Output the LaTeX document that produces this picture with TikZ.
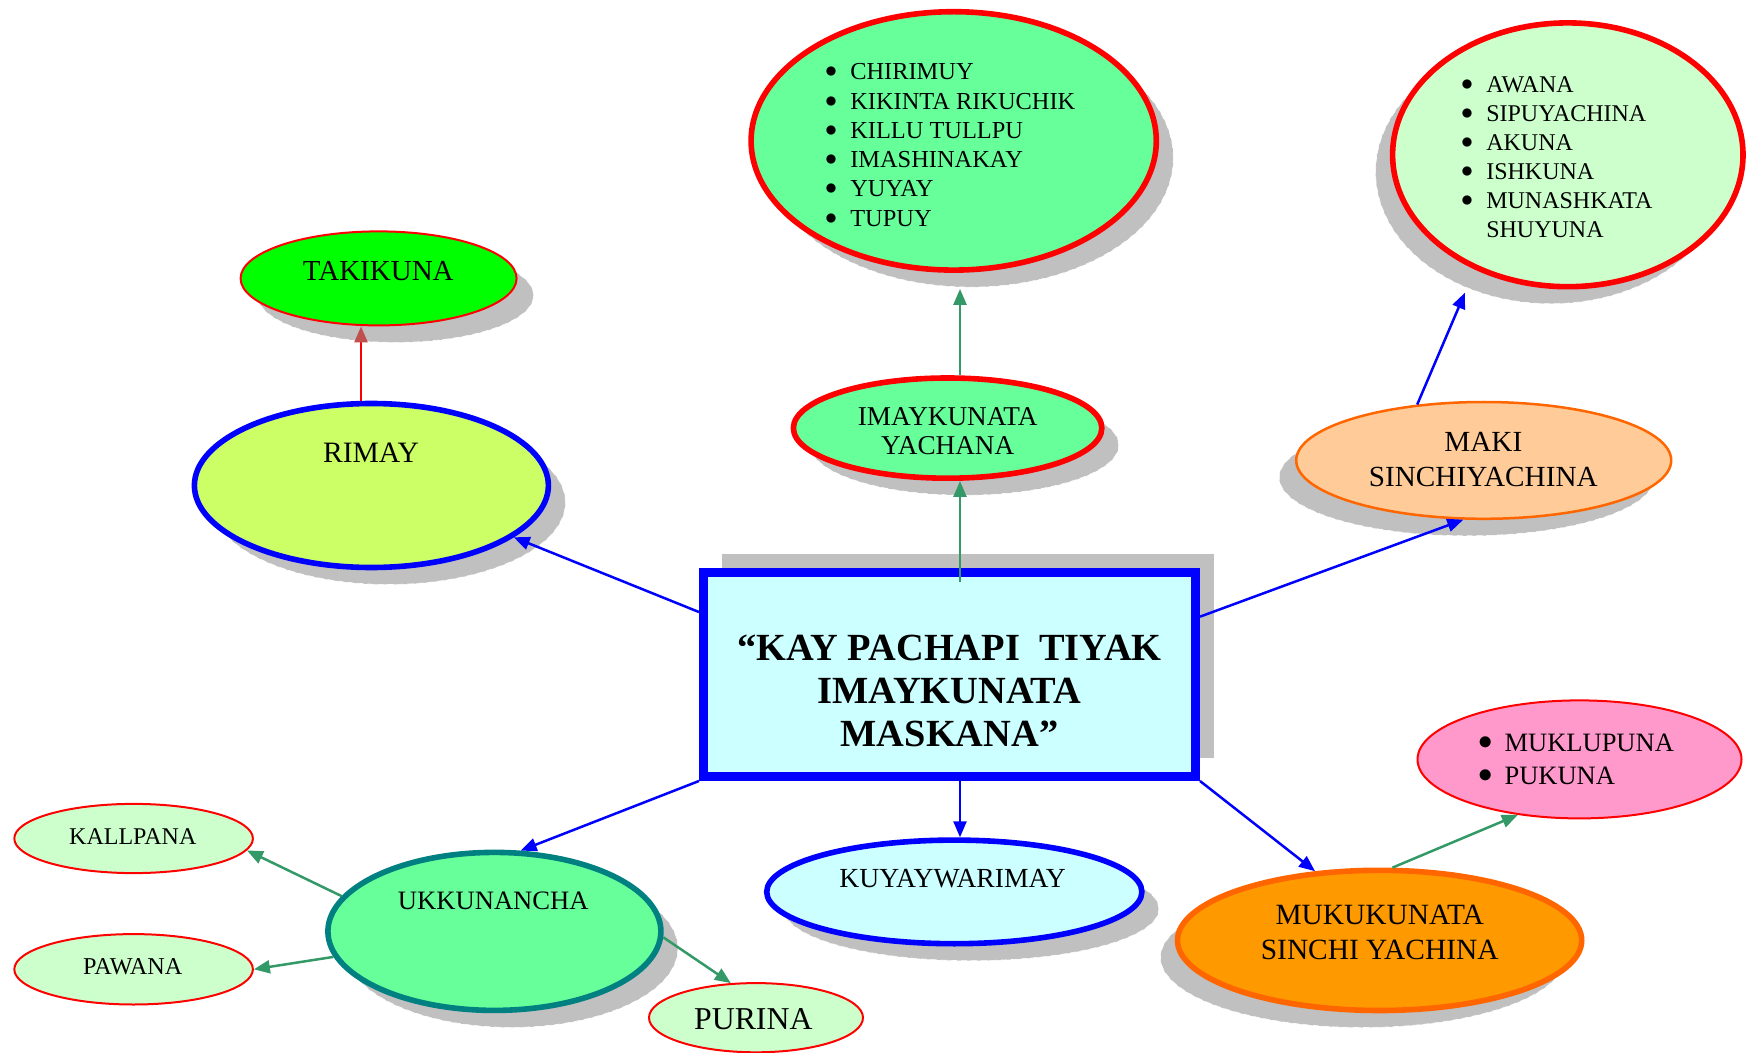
\documentclass[tikz,border=0pt]{standalone}
\usepackage{fontspec}
\setmainfont{Liberation Serif}
\usetikzlibrary{shapes.geometric,shadows,arrows.meta,calc}

\definecolor{boxcyan}{HTML}{CCFFFF}
\definecolor{takigreen}{HTML}{00FF00}
\definecolor{rimayfill}{HTML}{CCFF66}
\definecolor{mintfill}{HTML}{66FF99}
\definecolor{palefill}{HTML}{CCFFCC}
\definecolor{peachfill}{HTML}{FFCC99}
\definecolor{orangefill}{HTML}{FF9900}
\definecolor{orangeline}{HTML}{FF6600}
\definecolor{pinkfill}{HTML}{FF99CC}
\definecolor{tealline}{HTML}{008080}
\definecolor{shgray}{HTML}{C0C0C0}
\definecolor{arrowgreen}{HTML}{339966}
\definecolor{tipred}{HTML}{C0504D}

\newcommand\itm{\makebox[12pt]{\raisebox{.08em}{$\bullet$}}\hspace{3.6pt}}
\newcommand\noitm{\hspace*{15.6pt}}

\tikzset{
  oval/.style={ellipse, inner sep=0pt},
  shR/.style={drop shadow={shadow xshift=8.5pt, shadow yshift=-8.5pt, fill=shgray, opacity=1, draw=white, densely dashed, line width=.3pt}},
  shL/.style={drop shadow={shadow xshift=-8.5pt, shadow yshift=-8.5pt, fill=shgray, opacity=1, draw=white, densely dashed, line width=.3pt}},
  txt/.style={inner sep=0pt, align=center},
  lst/.style={inner sep=0pt, align=left, anchor=west},
  conn/.style={line width=1.25pt, -{Triangle[length=8pt,width=6.5pt]}},
}

\begin{document}
\begin{tikzpicture}[x=0.5pt, y=-0.5pt]
  \useasboundingbox (0,0) rectangle (1746,1053);
  \coordinate (vline) at (960,0);

  % central box
  \node[draw=blue, line width=4.5pt, fill=boxcyan, minimum width=246pt, minimum height=102pt, inner sep=0pt,
        drop shadow={shadow xshift=9pt, shadow yshift=9.5pt, fill=shgray, opacity=1}] (box) at (949.5,674.5) {};
  \node[txt, font=\fontsize{19.2}{21.45}\selectfont\bfseries] (title) at (949.5,691) {“KAY PACHAPI\ \ TIYAK\\IMAYKUNATA\\MASKANA”};

  % upper left
  \node[oval, shR, draw=red, line width=1pt, fill=takigreen, minimum width=138pt, minimum height=47pt] (taki) at (378.6,278.4) {};
  \node[txt, font=\fontsize{14.5}{17}\selectfont] (tTaki) at (378.3,270.7) {TAKIKUNA};
  \node[oval, shR, draw=blue, line width=2.8pt, fill=rimayfill, minimum width=177pt, minimum height=82pt] (rimay) at (371.4,485.5) {};
  \node[txt, font=\fontsize{14.8}{17}\selectfont] (tRimay) at (371,452.3) {RIMAY};

  % upper middle
  \node[oval, shR, draw=red, line width=2.8pt, fill=mintfill, minimum width=202.6pt, minimum height=129.2pt] (tasks) at (953.7,140.9) {};
  \node[lst, font=\fontsize{12.2}{14.65}\selectfont] (tTasks) at (818.7,145) {\itm CHIRIMUY\\\itm KIKINTA RIKUCHIK\\\itm KILLU TULLPU\\\itm IMASHINAKAY\\\itm YUYAY\\\itm TUPUY};
  \node[oval, shR, draw=red, line width=2.8pt, fill=mintfill, minimum width=154.2pt, minimum height=50.1pt] (imay) at (947.6,428.1) {};
  \node[txt, font=\fontsize{13.6}{14.65}\selectfont] (tImay) at (947.7,431.4) {IMAYKUNATA\\YACHANA};

  % upper right
  \node[oval, shL, draw=red, line width=2.8pt, fill=palefill, minimum width=175.2pt, minimum height=131.9pt] (sense) at (1567.8,154.8) {};
  \node[lst, font=\fontsize{12}{14.5}\selectfont] (tSense) at (1454.7,157.5) {\itm AWANA\\\itm SIPUYACHINA\\\itm AKUNA\\\itm ISHKUNA\\\itm MUNASHKATA\\\noitm SHUYUNA};
  \node[oval, shL, draw=orangeline, line width=1.25pt, fill=peachfill, minimum width=187.5pt, minimum height=58.4pt] (maki) at (1483.7,460.4) {};
  \node[txt, font=\fontsize{14.6}{17.2}\selectfont] (tMaki) at (1483.3,459.5) {MAKI\\SINCHIYACHINA};

  % lower right
  \node[oval, draw=red, line width=1pt, fill=pinkfill, minimum width=162pt, minimum height=59pt] (mukl) at (1579.5,759.4) {};
  \node[lst, font=\fontsize{13.25}{16.35}\selectfont] (tMukl) at (1473,759.7) {\itm MUKLUPUNA\\\itm PUKUNA};
  \node[oval, shL, draw=orangeline, line width=2.8pt, fill=orangefill, minimum width=202.1pt, minimum height=70.1pt] (muku) at (1379.6,940.4) {};
  \node[txt, font=\fontsize{14.7}{17.25}\selectfont] (tMuku) at (1379.7,932.5) {MUKUKUNATA\\SINCHI YACHINA};

  % lower middle
  \node[oval, shR, draw=blue, line width=2.8pt, fill=boxcyan, minimum width=187.6pt, minimum height=51.8pt] (kuyay) at (954.3,891.9) {};
  \node[txt, font=\fontsize{13.8}{16}\selectfont] (tKuyay) at (952.7,878.3) {KUYAYWARIMAY};

  % lower left
  \node[oval, shR, draw=tealline, line width=2.8pt, fill=mintfill, minimum width=166.5pt, minimum height=79pt] (ukk) at (494.4,931.4) {};
  \node[txt, font=\fontsize{13.3}{16}\selectfont] (tUkk) at (493.3,901) {UKKUNANCHA};
  \node[oval, draw=red, line width=1pt, fill=palefill, minimum width=119.3pt, minimum height=34.6pt] (kall) at (133.6,838.5) {};
  \node[txt, font=\fontsize{12}{14}\selectfont] (tKall) at (132.8,836.7) {KALLPANA};
  \node[oval, draw=red, line width=1pt, fill=palefill, minimum width=119.3pt, minimum height=35.2pt] (pawana) at (133.6,969.3) {};
  \node[txt, font=\fontsize{12.1}{14}\selectfont] (tPawana) at (132.7,966.7) {PAWANA};
  \node[oval, draw=red, line width=1pt, fill=palefill, minimum width=107pt, minimum height=34.6pt] (purina) at (756,1017.7) {};
  \node[txt, font=\fontsize{15.9}{18}\selectfont] (tPurina) at (753.3,1018.8) {PURINA};

  % connectors
  \draw[conn, blue] (box.166.55) -- (rimay.-20);
  \draw[conn, red, -{Triangle[length=8pt,width=6.5pt,color=tipred]}] (rimay.97.9) -- (rimay.97.9 |- taki.south);
  \draw[conn, arrowgreen] ($(box.north -| vline)+(0,14)$) -- (imay.south -| vline);
  \draw[conn, arrowgreen, shorten >=8pt] (imay.north -| vline) -- (tasks.south -| vline);
  \draw[conn, blue] (box.13.7) -- (maki.-109.7);
  \draw[conn, blue, shorten >=12.5pt] (maki.140) -- (sense.-129.8);
  \draw[conn, blue] (box.south west) -- (ukk.72.6);
  \draw[conn, blue] (box.south -| vline) -- (kuyay.north -| vline);
  \draw[conn, blue] (box.south east) -- (muku.133.4);
  \draw[conn, arrowgreen] (muku.80.6) -- (mukl.-138.2);
  \draw[conn, arrowgreen] (ukk.167.9) -- (kall.-6.5);
  \draw[conn, arrowgreen] (ukk.189.2) -- (pawana.east);
  \draw[conn, arrowgreen] (ukk.-2.1) -- (purina.126.1);
\end{tikzpicture}
\end{document}
